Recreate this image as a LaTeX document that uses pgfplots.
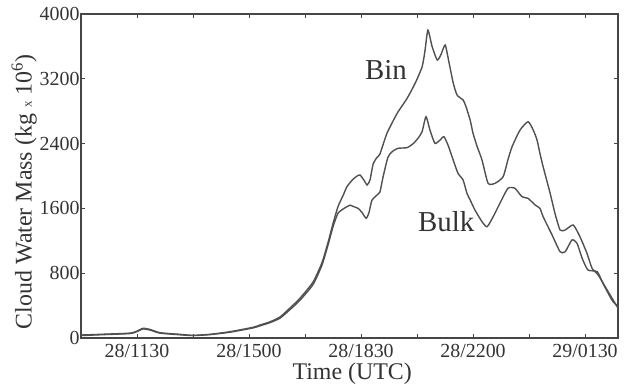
\documentclass[border=0pt]{standalone}
\usepackage{pgfplots}
\pgfplotsset{compat=1.18}
\usepackage{fontspec}
\setmainfont{Liberation Serif}
\definecolor{curve}{RGB}{80,80,80}
\definecolor{frame}{RGB}{70,70,70}
\begin{document}
\begin{tikzpicture}
\useasboundingbox (-81bp,-47bp) rectangle (544bp,338bp);
\begin{axis}[
  scale only axis,
  width=537bp, height=324bp,
  xmin=9.75, xmax=26.53,
  ymin=0, ymax=4000,
  axis line style={frame, line width=1.2bp},
  tick style={frame, line width=1bp},
  major tick length=4bp,
  xtick={9.75,11.5,13.25,15,16.75,18.5,20.25,22,23.75,25.5},
  xticklabels={,28/1130,,28/1500,,28/1830,,28/2200,,29/0130},
  ytick={0,800,1600,2400,3200,4000},
  yticklabels={0,800,1600,2400,3200,4000},
  /pgf/number format/assume math mode=true,
  ticklabel style={font=\fontsize{20}{20}\selectfont, text=black!80},
  xticklabel style={anchor=base, yshift=-19bp},
  yticklabel style={xshift=2bp},
  xlabel={Time (UTC)},
  ylabel={Cloud Water Mass (kg {\fontsize{13}{13}\selectfont x} 10\textsuperscript{6})},
  label style={font=\fontsize{24}{24}\selectfont, text=black!80},
  xlabel style={at={(axis description cs:0.505,-0.128)}, anchor=base},
  ylabel style={at={(axis description cs:-0.106,0.451)}, anchor=center},
  clip=false,
]
\addplot[curve, line width=1.4bp, smooth, tension=0.35] coordinates {
(9.75,37) (10.34,45) (11.28,60) (11.5,85) (11.69,120) (11.91,105) (12.22,65)
(12.84,45) (13.25,33) (13.78,45) (14.41,78) (15.13,132) (15.34,160) (15.66,200)
(15.97,260) (16.28,370) (16.59,490) (17.0,690) (17.28,930) (17.47,1180) (17.63,1420)
(17.78,1621) (17.94,1760) (18.06,1868) (18.25,1960) (18.38,2000) (18.47,2012)
(18.59,1950) (18.69,1889) (18.78,1950) (18.88,2150) (19.0,2230) (19.09,2270)
(19.31,2527) (19.63,2774) (19.94,2959) (20.19,3144) (20.41,3349) (20.5,3550)
(20.59,3802) (20.72,3600) (20.88,3432) (21.0,3500) (21.13,3617) (21.25,3400)
(21.38,3150) (21.5,3000) (21.69,2938) (21.78,2856) (21.91,2691) (22.0,2527)
(22.13,2362) (22.28,2198) (22.47,1910) (22.69,1910) (22.94,1991) (23.09,2200)
(23.22,2362) (23.47,2568) (23.72,2670) (23.88,2568) (24.0,2444) (24.09,2280)
(24.19,2115) (24.41,1786) (24.56,1539) (24.72,1333) (24.88,1333) (25.13,1395)
(25.34,1251) (25.56,1046) (25.72,860) (25.91,778) (26.19,593) (26.44,428) (26.53,370)
};
\addplot[curve, line width=1.4bp, smooth, tension=0.35] coordinates {
(9.75,30) (10.34,40) (11.28,55) (11.5,80) (11.69,112) (11.91,98) (12.22,60)
(12.84,40) (13.25,30) (13.78,42) (14.41,72) (15.13,125) (15.34,150) (15.66,190)
(15.97,245) (16.28,350) (16.59,465) (17.0,660) (17.28,900) (17.47,1150) (17.63,1380)
(17.78,1540) (17.97,1600) (18.16,1640) (18.25,1625) (18.41,1600) (18.53,1550)
(18.66,1477) (18.75,1550) (18.84,1700) (19.0,1765) (19.09,1800) (19.19,1991)
(19.34,2230) (19.47,2300) (19.66,2342) (19.94,2350) (20.13,2400) (20.28,2465)
(20.41,2550) (20.53,2732) (20.66,2560) (20.81,2403) (20.97,2444) (21.09,2485)
(21.22,2380) (21.38,2198) (21.53,2033) (21.69,1950) (21.81,1786) (21.91,1704)
(22.06,1580) (22.28,1436) (22.44,1374) (22.63,1498) (22.84,1663) (23.09,1848)
(23.31,1848) (23.53,1744) (23.72,1724) (23.94,1642) (24.09,1601) (24.19,1498)
(24.47,1272) (24.72,1065) (24.88,1065) (25.09,1210) (25.25,1169) (25.41,984)
(25.59,840) (25.88,819) (26.06,675) (26.34,469) (26.53,387)
};
\node[font=\fontsize{29}{29}\selectfont, text=black!80] at (axis cs:19.28,3309) {Bin};
\node[font=\fontsize{29}{29}\selectfont, text=black!80] at (axis cs:21.16,1432) {Bulk};
\end{axis}
\end{tikzpicture}
\end{document}
